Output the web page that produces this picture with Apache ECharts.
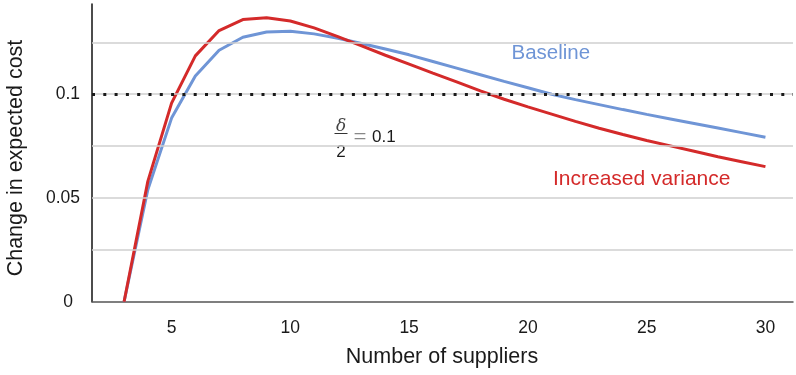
<!DOCTYPE html>
<html><head><meta charset="utf-8">
<script src="https://cdn.jsdelivr.net/npm/echarts@6/dist/echarts.min.js"></script>
<style>html,body{margin:0;padding:0;background:#fff}#c{width:796px;height:375px}</style>
</head><body><div id="c"></div>
<script>
// ---- data ----
const suppliers = [3,4,5,6,7,8,9,10,11,12,13,14,15,16,17,18,19,20,21,22,23,24,25,26,27,28,29,30];
const baseline = [0,0.054,0.0885,0.1088,0.1212,0.1275,0.1300,0.1304,0.1291,0.1270,0.1245,0.1218,0.1190,0.1158,0.1126,0.1094,0.1062,0.1031,0.1000,0.0974,0.0950,0.0926,0.0903,0.0881,0.0859,0.0837,0.0815,0.0793];
const increasedVariance = [0,0.058,0.0957,0.1185,0.1307,0.1360,0.1369,0.1353,0.1320,0.1278,0.1233,0.1188,0.1145,0.1102,0.1060,0.1016,0.0976,0.0939,0.0904,0.0869,0.0836,0.0806,0.0777,0.0751,0.0725,0.0699,0.0675,0.0651];
const xTickValues = [5,10,15,20,25,30];
const yTickValues = [0,0.05,0.1];
const yTickLabels = ['0','0.05','0.1'];
const gridLevels = [0.025,0.05,0.075,0.1,0.125];
const thresholdLevel = 0.1;
const seriesNames = ['Baseline','Increased variance'];

const FONT = '"Liberation Sans", Arial, sans-serif';
const BLUE = '#6f95d6', RED = '#d42a2a';

const chart = echarts.init(document.getElementById('c'), null, {renderer:'canvas'});
const pairs = (ys) => suppliers.map((x,i)=>[x, ys[i]]);

chart.setOption({
  animation:false,
  backgroundColor:'#fff',
  grid:{left:92, right:0, top:4, bottom:73.3, containLabel:false},
  xAxis:{
    type:'value', min:1.65, max:31.16,
    axisLine:{show:true, onZero:false, lineStyle:{color:'#555', width:1.5}},
    axisTick:{show:false},
    splitLine:{show:false},
    axisLabel:{
      margin:17, color:'#1a1a1a', fontSize:17.5, fontFamily:FONT,
      formatter:(v)=>{ const k = xTickValues.findIndex(t=>Math.abs(t-v)<1e-6); return k>=0 ? String(xTickValues[k]) : ''; }
    }
  },
  yAxis:{
    type:'value', min:0, max:0.1435, interval:0.025,
    axisLine:{show:true, onZero:false, lineStyle:{color:'#111', width:1.5}},
    axisTick:{show:false},
    splitLine:{show:false},
    axisLabel:{
      margin:12, color:'#1a1a1a', fontSize:17.5, fontFamily:FONT,
      formatter:(v)=>{
        const k = yTickValues.findIndex(t=>Math.abs(t-v)<1e-9);
        if (k < 0) return '';
        return k === 0 ? '{z|' + yTickLabels[k] + '}' : yTickLabels[k];
      },
      rich:{ z:{ fontSize:17.5, fontFamily:FONT, color:'#1a1a1a', padding:[0,7,0,0] } }
    }
  },
  series:[
    {
      type:'line', data:[], z:1, silent:true,
      markLine:{
        silent:true, symbol:['none','none'], animation:false, precision:4,
        label:{show:false},
        data:[
          ...gridLevels.map(v=>({yAxis:v, lineStyle:{color:'#cfcfcf', width:1.5, type:'solid'}})),
          {yAxis:thresholdLevel, lineStyle:{color:'#1a1a1a', width:3, type:[3,8.3], cap:'butt'}}
        ]
      }
    },
    {
      name:seriesNames[0], type:'line', data:pairs(baseline), z:3,
      showSymbol:false, lineStyle:{color:BLUE, width:3}, itemStyle:{color:BLUE}
    },
    {
      name:seriesNames[1], type:'line', data:pairs(increasedVariance), z:4,
      showSymbol:false, lineStyle:{color:RED, width:3}, itemStyle:{color:RED}
    }
  ],
  graphic:[
    {type:'text', x:442, y:357, style:{text:'Number of suppliers', fontSize:21.5, fontFamily:FONT, fill:'#1a1a1a', align:'center', verticalAlign:'middle'}},
    {type:'text', x:16, y:158, rotation:Math.PI/2, style:{text:'Change in expected cost', fontSize:21.5, fontFamily:FONT, fill:'#1a1a1a', align:'center', verticalAlign:'middle'}},
    {type:'text', x:511.5, y:53.5, style:{text:seriesNames[0], fontSize:20.5, fontFamily:FONT, fill:BLUE, align:'left', verticalAlign:'middle'}},
    {type:'text', x:553, y:179, style:{text:seriesNames[1], fontSize:21, fontFamily:FONT, fill:RED, align:'left', verticalAlign:'middle'}},
    {type:'text', x:341, y:127, style:{text:'δ', fontSize:17, fontStyle:'italic', fontFamily:'"DejaVu Serif", "Liberation Serif", serif', fill:'#444', align:'center', verticalAlign:'middle'}},
    {type:'line', shape:{x1:334.5, y1:133.5, x2:347.5, y2:133.5}, style:{stroke:'#333', lineWidth:1}},
    {type:'text', x:341, y:152, style:{text:'2', fontSize:17, fontFamily:FONT, fill:'#1a1a1a', align:'center', verticalAlign:'middle'}},
    {type:'text', x:360, y:138, style:{text:'=', fontSize:23, fontFamily:'"Liberation Serif", serif', fill:'#888', align:'center', verticalAlign:'middle'}},
    {type:'text', x:372, y:137.5, style:{text:'0.1', fontSize:17, fontFamily:FONT, fill:'#1a1a1a', align:'left', verticalAlign:'middle'}}
  ]
});
</script>
</body></html>
